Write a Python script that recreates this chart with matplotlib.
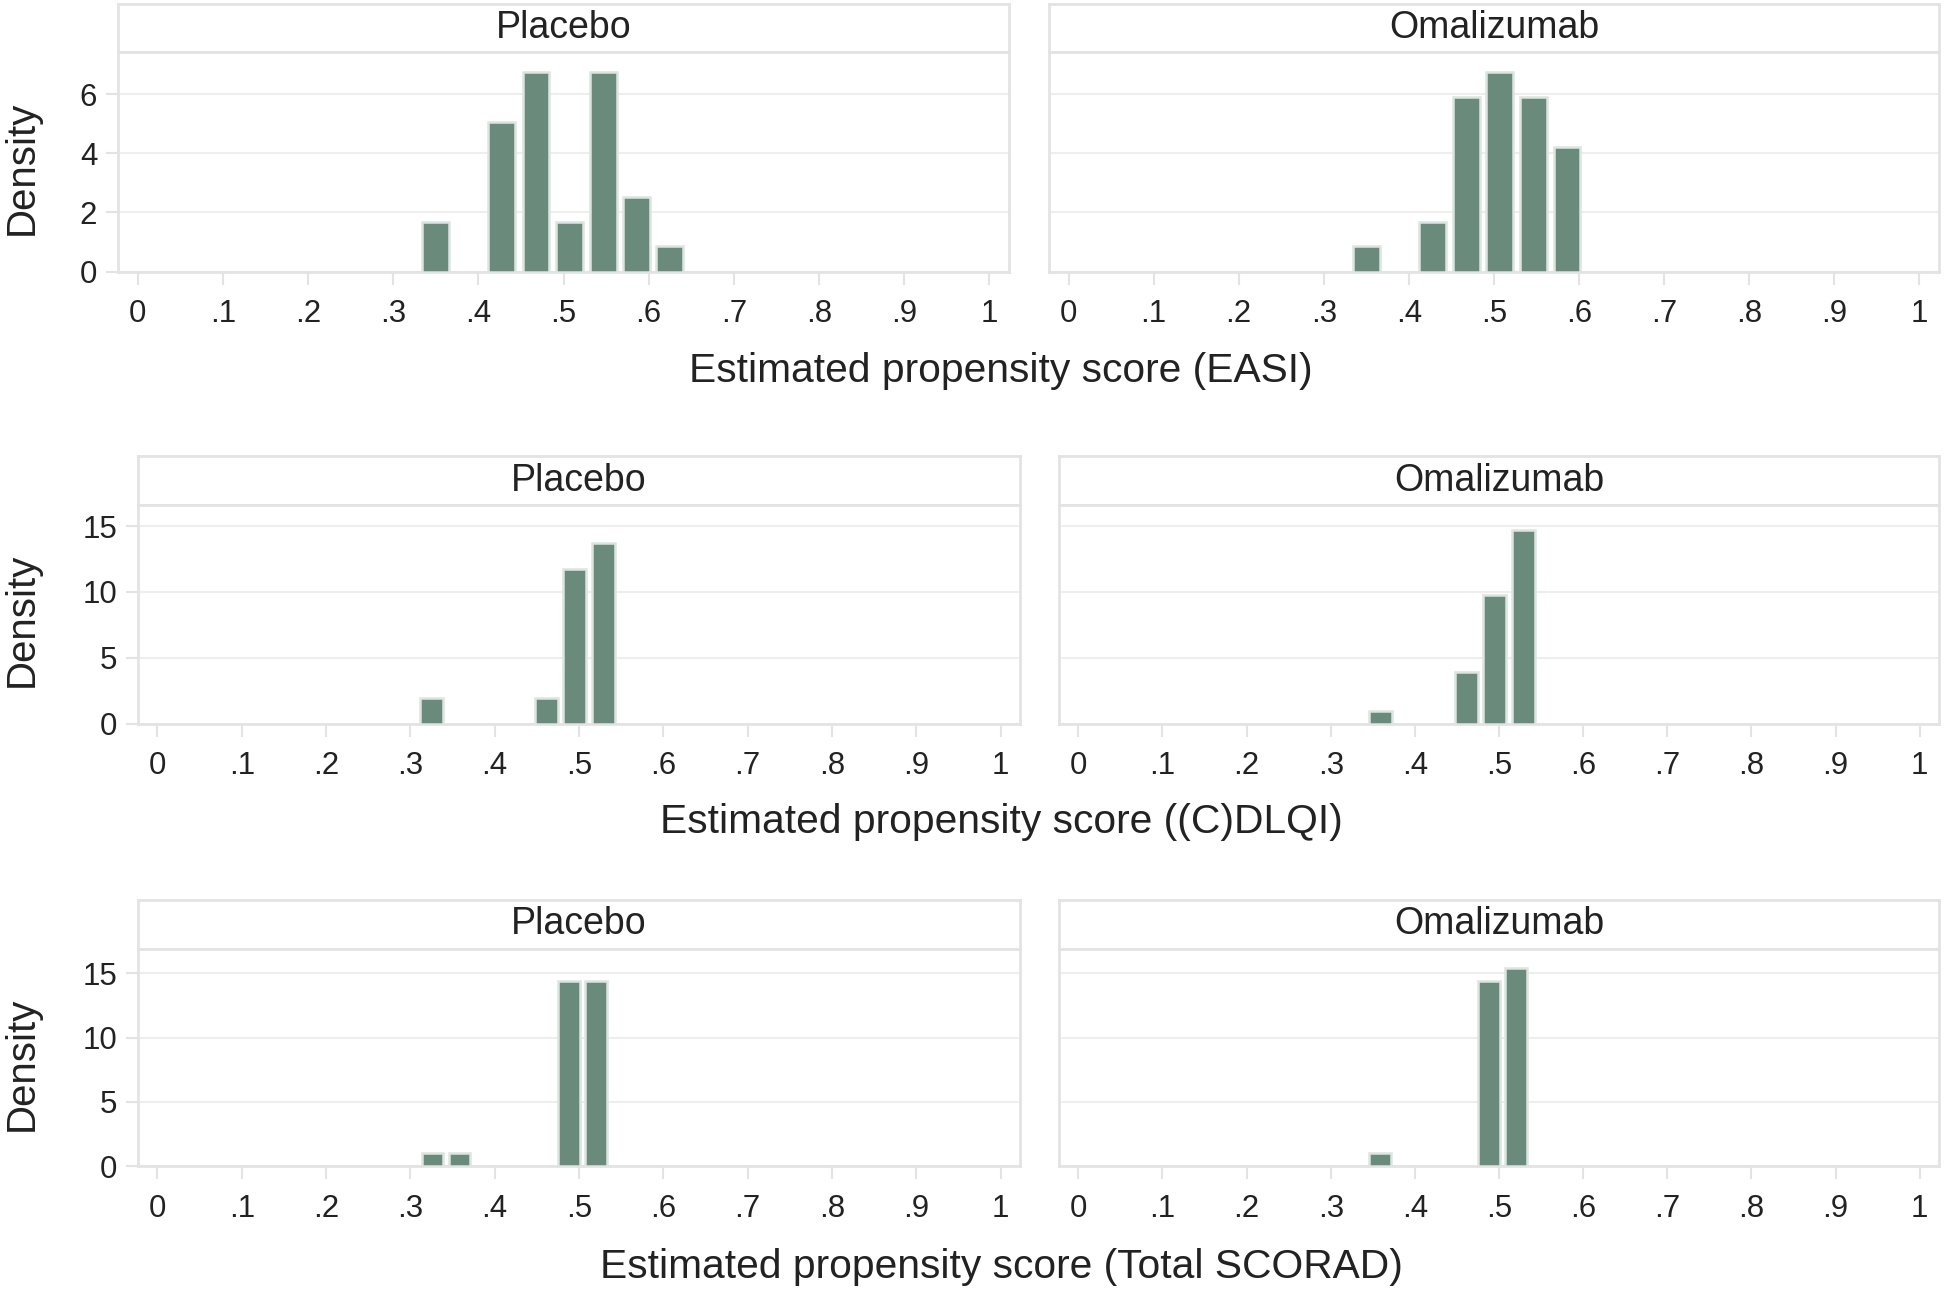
import matplotlib
matplotlib.use("Agg")
import matplotlib.pyplot as plt

plt.rcParams['font.family'] = ['Liberation Sans', 'DejaVu Sans']

# propensity score histograms (density)
groups = ['Placebo', 'Omalizumab']
xlabels = ['Estimated propensity score (EASI)',
           'Estimated propensity score ((C)DLQI)',
           'Estimated propensity score (Total SCORAD)']
xticks = [0, .1, .2, .3, .4, .5, .6, .7, .8, .9, 1]
xticklabels = ['0', '.1', '.2', '.3', '.4', '.5', '.6', '.7', '.8', '.9', '1']

easi_width = 0.0394
easi_placebo_left = [0.330, 0.408, 0.448, 0.487, 0.527, 0.566, 0.605]
easi_placebo_density = [1.69, 5.08, 6.77, 1.69, 6.77, 2.54, 0.85]
easi_omal_left = [0.330, 0.408, 0.448, 0.487, 0.527, 0.566]
easi_omal_density = [0.85, 1.69, 5.92, 6.77, 5.92, 4.23]
easi_yticks = [0, 2, 4, 6]

dlqi_width = 0.034
dlqi_placebo_left = [0.308, 0.444, 0.478, 0.512]
dlqi_placebo_density = [1.96, 1.96, 11.76, 13.72]
dlqi_omal_left = [0.342, 0.444, 0.478, 0.512]
dlqi_omal_density = [0.98, 3.92, 9.80, 14.70]
dlqi_yticks = [0, 5, 10, 15]

scorad_width = 0.0324
scorad_placebo_left = [0.310, 0.342, 0.472, 0.504]
scorad_placebo_density = [1.03, 1.03, 14.4, 14.4]
scorad_omal_left = [0.342, 0.472, 0.504]
scorad_omal_density = [1.03, 14.4, 15.45]
scorad_yticks = [0, 5, 10, 15]

rows = [
    (easi_width, [(easi_placebo_left, easi_placebo_density), (easi_omal_left, easi_omal_density)], easi_yticks, 7.44),
    (dlqi_width, [(dlqi_placebo_left, dlqi_placebo_density), (dlqi_omal_left, dlqi_omal_density)], dlqi_yticks, 16.6),
    (scorad_width, [(scorad_placebo_left, scorad_placebo_density), (scorad_omal_left, scorad_omal_density)], scorad_yticks, 16.9),
]

# layout in pixels: (strip top, plot top, plot bottom), panel x ranges
W, H = 1946, 1293
row_y = [(3.5, 52, 271.5), (456.5, 505, 723.5), (900, 949, 1166)]
row_x = [[(118, 1009), (1049, 1939)],
         [(138, 1020), (1059, 1939)],
         [(138, 1020), (1059, 1939)]]
xlabel_y = [371, 822, 1267]
ylabel_y = [168, 620, 1064]

BAR = '#6a8a7c'
EDGE = '#dce5e0'
LINE = '#e3e3e3'
GRID = '#eeeeee'

def frac(x0, y0, x1, y1):
    return [x0 / W, 1 - y1 / H, (x1 - x0) / W, (y1 - y0) / H]

fig = plt.figure(figsize=(W / 100, H / 100), dpi=100)

for r, (width, panels, yticks, ytop) in enumerate(rows):
    st, pt, pb = row_y[r]
    for c, (left, dens) in enumerate(panels):
        x0, x1 = row_x[r][c]
        # strip
        sax = fig.add_axes(frac(x0, st, x1, pt))
        sax.set_xticks([])
        sax.set_yticks([])
        for s in sax.spines.values():
            s.set_color(LINE)
            s.set_linewidth(2)
        sax.text(0.5, 0.5, groups[c], ha='center', va='center', fontsize=27, color='#222222')

        ax = fig.add_axes(frac(x0, pt, x1, pb))
        gap = width * 0.1
        ax.bar([l + gap for l in left], dens, width=width - 2 * gap, align='edge',
               color=BAR, edgecolor=EDGE, linewidth=1.8, zorder=3)
        ax.set_xlim(-0.023, 1.023)
        ax.set_ylim(0, ytop)
        ax.set_xticks(xticks)
        ax.set_xticklabels(xticklabels)
        ax.set_yticks(yticks)
        ax.grid(axis='y', color=GRID, linewidth=1.5, zorder=0)
        ax.set_axisbelow(True)
        for s in ax.spines.values():
            s.set_color(LINE)
            s.set_linewidth(2)
        ax.tick_params(axis='x', length=9, width=1.5, color=LINE, pad=11,
                       labelsize=22.5, labelcolor='#222222')
        ax.tick_params(axis='y', length=9, width=1.5, color=LINE, pad=6,
                       labelsize=22.5, labelcolor='#222222')
        if c == 1:
            ax.tick_params(axis='y', length=0, labelleft=False)

    fig.text(1001 / W, 1 - xlabel_y[r] / H, xlabels[r], ha='center', va='center',
             fontsize=29.3, color='#222222')
    fig.text(22 / W, 1 - ylabel_y[r] / H, 'Density', ha='center', va='center',
             rotation=90, fontsize=29, color='#222222')

fig.savefig('out.png', dpi=100, facecolor='white')
